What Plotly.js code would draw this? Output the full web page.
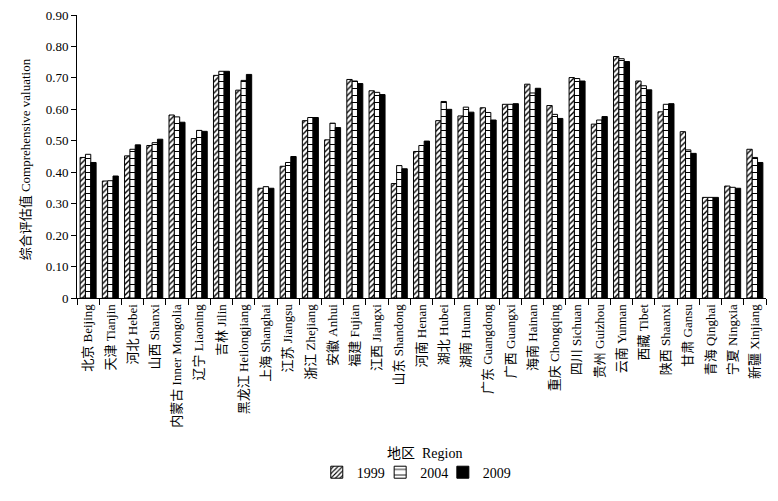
<!DOCTYPE html>
<html>
<head>
<meta charset="utf-8">
<script src="https://cdn.plot.ly/plotly-3.0.1.min.js"></script>
<style>html,body{margin:0;padding:0;background:#fff;}#chart{width:778px;height:501px;}</style>
</head>
<body>
<div id="chart"></div>
<script>
const regions = ["北京 Beijing","天津 Tianjin","河北 Hebei","山西 Shanxi","内蒙古 Inner Mongolia","辽宁 Liaoning","吉林 Jilin","黑龙江 Heilongjiang","上海 Shanghai","江苏 Jiangsu","浙江 Zhejiang","安徽 Anhui","福建 Fujian","江西 Jiangxi","山东 Shandong","河南 Henan","湖北 Hubei","湖南 Hunan","广东 Guangdong","广西 Guangxi","海南 Hainan","重庆 Chongqing","四川 Sichuan","贵州 Guizhou","云南 Yunnan","西藏 Tibet","陕西 Shaanxi","甘肃 Gansu","青海 Qinghai","宁夏 Ningxia","新疆 Xinjiang"];
const v1999 = [0.447,0.372,0.452,0.485,0.582,0.507,0.708,0.661,0.349,0.419,0.564,0.503,0.695,0.659,0.364,0.466,0.564,0.579,0.605,0.616,0.680,0.612,0.701,0.553,0.768,0.690,0.592,0.529,0.320,0.356,0.473];
const v2004 = [0.457,0.373,0.473,0.494,0.576,0.533,0.721,0.692,0.354,0.431,0.574,0.556,0.690,0.654,0.421,0.485,0.625,0.607,0.590,0.616,0.652,0.584,0.698,0.566,0.761,0.675,0.616,0.471,0.320,0.352,0.447];
const v2009 = [0.431,0.388,0.487,0.505,0.559,0.530,0.721,0.711,0.349,0.450,0.574,0.542,0.682,0.647,0.411,0.499,0.600,0.591,0.566,0.618,0.667,0.571,0.690,0.577,0.752,0.662,0.618,0.460,0.320,0.349,0.431];
const years = ["1999","2004","2009"];
const yTickVals = [0,0.1,0.2,0.3,0.4,0.5,0.6,0.7,0.8,0.9];
const yTickText = ["0","0.10","0.20","0.30","0.40","0.50","0.60","0.70","0.80","0.90"];

const FONT = "Liberation Serif, Noto Sans CJK SC, serif";

const traces = [
  {type:'bar', name:years[0], x:regions, y:v1999, legend:'legend',
   marker:{color:'white', line:{color:'black', width:1},
           pattern:{shape:'/', fgcolor:'black', bgcolor:'white', size:4, solidity:0.35}}},
  {type:'bar', name:years[1], x:regions, y:v2004, legend:'legend2',
   marker:{color:'white', line:{color:'black', width:1},
           pattern:{shape:'-', fgcolor:'black', bgcolor:'white', size:7, solidity:0.15}}},
  {type:'bar', name:years[2], x:regions, y:v2009, legend:'legend3',
   marker:{color:'black', line:{color:'black', width:1}}}
];

const legBase = {orientation:'h', y:-0.617, yanchor:'middle', xanchor:'left',
                 font:{family:FONT, size:14, color:'black'}, itemwidth:30,
                 bgcolor:'rgba(0,0,0,0)'};

const layout = {
  width:778, height:501,
  margin:{l:77, r:12, t:15, b:195},
  paper_bgcolor:'white', plot_bgcolor:'white',
  font:{family:FONT, size:13, color:'black'},
  barmode:'group', bargap:0.28, bargroupgap:0,
  showlegend:true,
  legend:Object.assign({}, legBase, {x:0.348}),
  legend2:Object.assign({}, legBase, {x:0.440}),
  legend3:Object.assign({}, legBase, {x:0.531}),
  xaxis:{type:'category', showline:true, linecolor:'black', linewidth:1,
         ticks:'outside', tickson:'boundaries', ticklen:6, tickcolor:'black',
         tickangle:-90, tickfont:{family:FONT, size:13, color:'black'},
         showgrid:false, zeroline:false, automargin:false},
  yaxis:{range:[0,0.9], showline:true, linecolor:'black', linewidth:1,
         ticks:'outside', ticklen:5, tickcolor:'black',
         tickvals:yTickVals, ticktext:yTickText,
         tickfont:{family:FONT, size:13, color:'black'},
         showgrid:false, zeroline:false, automargin:false},
  annotations:[
    {text:'综合评估值 Comprehensive valuation', xref:'paper', yref:'paper',
     x:-0.0755, y:0.49, xanchor:'center', yanchor:'middle', textangle:-90,
     showarrow:false, font:{family:FONT, size:13, color:'black'}},
    {text:'地区  Region', xref:'paper', yref:'paper',
     x:0.505, y:-0.549, xanchor:'center', yanchor:'middle',
     showarrow:false, font:{family:FONT, size:14, color:'black'}}
  ]
};

Plotly.newPlot('chart', traces, layout, {displayModeBar:false, staticPlot:true});
</script>
</body>
</html>
